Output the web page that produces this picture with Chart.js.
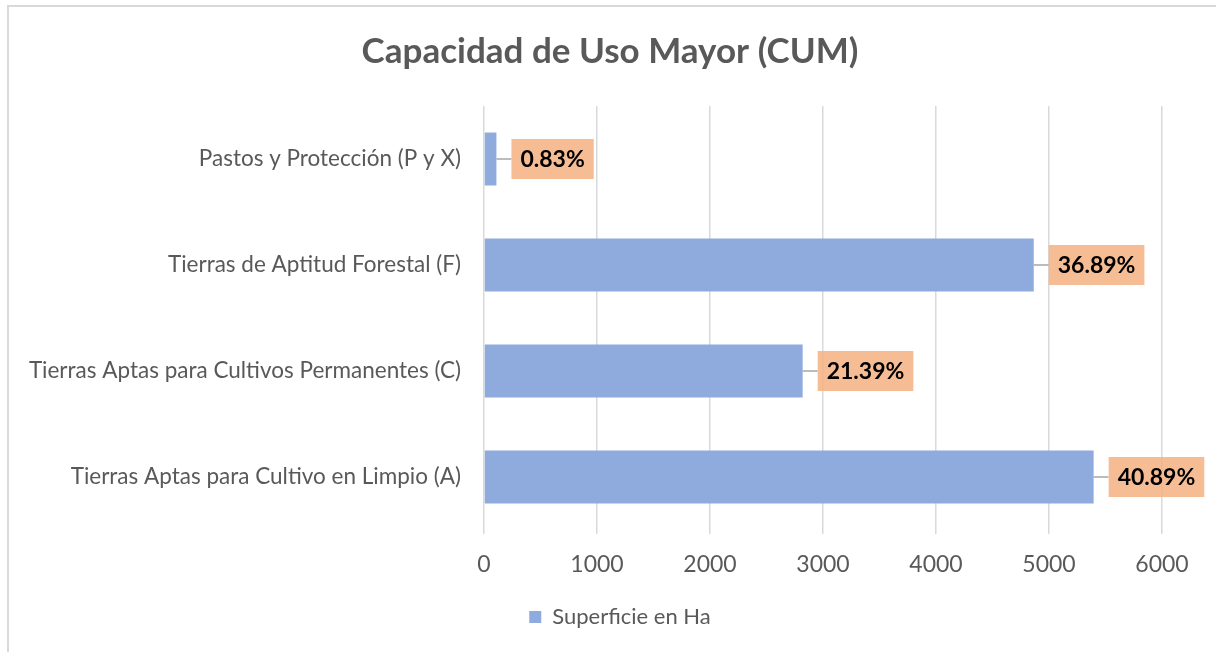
<!DOCTYPE html>
<html>
<head>
<meta charset="utf-8">
<script src="https://cdn.jsdelivr.net/npm/chart.js@4"></script>
<style>
  html, body { margin: 0; padding: 0; background: #fff; }
  #wrap { position: relative; width: 1216px; height: 652px; }
  #frame { position: absolute; left: 7px; top: 5px; width: 1209px; height: 647px;
           border-left: 2px solid #d9d9d9; border-top: 2px solid #d9d9d9; box-sizing: border-box; pointer-events: none; }
</style>
</head>
<body>
<div id="wrap">
  <canvas id="myChart" width="1216" height="652"></canvas>
  <div id="frame"></div>
</div>
<script>
// categories top to bottom, as in the picture
var categories = ['Pastos y Protección (P y X)', 'Tierras de Aptitud Forestal (F)', 'Tierras Aptas para Cultivos Permanentes (C)', 'Tierras Aptas para Cultivo en Limpio (A)'];
var superficie = [110, 4865, 2820, 5395];
var percentLabels = ['0.83%', '36.89%', '21.39%', '40.89%'];
var xTicks = [0, 1000, 2000, 3000, 4000, 5000, 6000];

var FONT = 'Lato, "Open Sans", sans-serif';

// boxes with the percentages, placed right of each bar
var pctLabels = {
  id: 'pctLabels',
  afterDatasetsDraw: function(chart) {
    var ctx = chart.ctx;
    var meta = chart.getDatasetMeta(0);
    ctx.save();
    ctx.font = 'bold 23px ' + FONT;
    meta.data.forEach(function(bar, i) {
      var txt = percentLabels[i];
      var w = ctx.measureText(txt).width + 18;
      var h = 40;
      var left = bar.x + 15;
      var top = bar.y - h / 2;
      // leader line
      ctx.strokeStyle = '#a6a6a6';
      ctx.lineWidth = 1.5;
      ctx.beginPath();
      ctx.moveTo(bar.x, bar.y);
      ctx.lineTo(left, bar.y);
      ctx.stroke();
      ctx.fillStyle = 'rgba(244, 177, 131, 0.85)';
      ctx.fillRect(left, top, w, h);
      ctx.fillStyle = '#000';
      ctx.textAlign = 'center';
      ctx.textBaseline = 'middle';
      ctx.fillText(txt, left + w / 2, bar.y + 1);
    });
    ctx.restore();
  }
};

// title and legend sit a bit right of the plot centre in the original
var shiftBlocks = {
  id: 'shiftBlocks',
  afterLayout: function(chart) {
    if (chart.titleBlock) { chart.titleBlock.left += 29; chart.titleBlock.right += 29; }
    if (chart.legend) { chart.legend.left += 39; chart.legend.right += 39; }
  }
};

function drawChart(){
  var ctx = document.getElementById('myChart').getContext('2d');
  var chart = new Chart(ctx, {
    type: 'bar',
    data: {
      labels: categories,
      datasets: [{
        label: 'Superficie en Ha',
        data: superficie,
        backgroundColor: '#8faadc',
        borderWidth: 0,
        categoryPercentage: 0.5,
        barPercentage: 1
      }]
    },
    options: {
      indexAxis: 'y',
      responsive: false,
      animation: false,
      layout: { padding: { left: 0, right: 54, top: 0, bottom: 14 } },
      plugins: {
        title: {
          display: true,
          text: 'Capacidad de Uso Mayor (CUM)',
          color: '#595959',
          font: { family: FONT, size: 35, weight: 'bold' },
          padding: { top: 31, bottom: 33 }
        },
        legend: {
          position: 'bottom',
          labels: {
            color: '#595959',
            font: { family: FONT, size: 22 },
            boxWidth: 12,
            boxHeight: 12,
            padding: 10
          }
        },
        tooltip: { enabled: false }
      },
      scales: {
        x: {
          min: 0,
          max: 6000,
          afterBuildTicks: function(scale) {
            scale.ticks = xTicks.map(function(v) { return { value: v }; });
          },
          afterFit: function(scale) { scale.height = 66; },
          grid: { color: '#d9d9d9', lineWidth: 1.5, tickLength: 4 },
          border: { display: false },
          ticks: {
            color: '#595959',
            font: { family: FONT, size: 23 },
            padding: 17,
            callback: function(v) { return String(v); }
          }
        },
        y: {
          afterFit: function(scale) { scale.width = 484; },
          grid: { display: false },
          border: { display: false },
          ticks: { color: '#595959', font: { family: FONT, size: 22.5 }, padding: 15 }
        }
      }
    },
    plugins: [pctLabels, shiftBlocks]
  });
}

drawChart();
</script>
</body>
</html>
